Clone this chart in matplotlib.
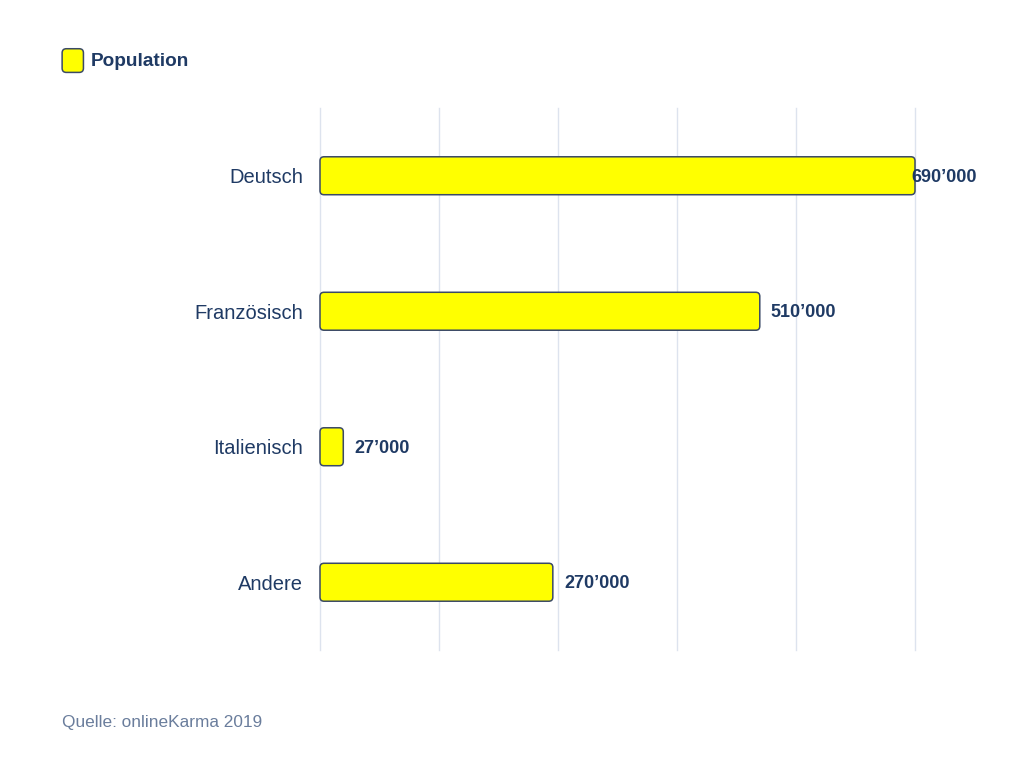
import matplotlib.pyplot as plt
from matplotlib.patches import FancyBboxPatch
from matplotlib.legend_handler import HandlerPatch

sprachen = ["Deutsch", "Französisch", "Italienisch", "Andere"]
population = [690000, 510000, 27000, 270000]
serie = "Population"
quelle = "Quelle: onlineKarma 2019"

GELB = "#ffff00"
RAND = "#3b4a66"
NAVY = "#1f3a64"
GRAU = "#6a7d9c"
GITTER = "#dde3ee"

plt.rcParams['font.family'] = ['Liberation Sans', 'DejaVu Sans']

fig = plt.figure(figsize=(10.24, 7.68), dpi=100)
ax = fig.add_axes([320 / 1024, 1 - 650 / 768, 595 / 1024, 542 / 768])

pos = list(range(len(sprachen)))
bars = ax.barh(pos, population, height=0.28, color=GELB, edgecolor=RAND)

ax.set_xlim(0, 690000)
ax.set_ylim(len(sprachen) - 0.5, -0.5)

# runde Ecken: Balken durch FancyBboxPatch ersetzen
px_x = 690000 / 595
px_y = 1 / 135.5
r = 4 * px_x
for b in bars:
    b.set_visible(False)
    p = FancyBboxPatch((b.get_x(), b.get_y()), b.get_width(), b.get_height(),
                       boxstyle=f"round,pad=0,rounding_size={r}",
                       mutation_aspect=px_y / px_x,
                       facecolor=GELB, edgecolor=RAND, linewidth=1.1, zorder=3,
                       clip_on=False)
    ax.add_patch(p)

for i, v in enumerate(population):
    txt = f"{v:,}".replace(",", "\u2019")
    off = -2.5 if v == max(population) else 8
    ax.annotate(txt, (v, i), xytext=(off, -1), textcoords="offset points",
                ha="left", va="center", fontsize=13, fontweight="bold",
                color=NAVY, zorder=4, annotation_clip=False)

ax.set_xticks([0, 138000, 276000, 414000, 552000, 690000])
ax.set_xticklabels([])
ax.tick_params(axis="x", length=0)
ax.grid(axis="x", color=GITTER, linewidth=1)
for g in ax.xaxis.get_gridlines():
    g.set_clip_on(False)
ax.set_axisbelow(True)
ax.set_yticks(pos)
ax.set_yticklabels(sprachen, fontsize=14.5, color=NAVY)
ax.tick_params(axis="y", length=0, pad=12)
for s in ax.spines.values():
    s.set_visible(False)


def rund_handle(legend, orig_handle, xdescent, ydescent, width, height, fontsize):
    return FancyBboxPatch((-xdescent, -ydescent - 2), width, height + 3,
                          boxstyle="round,pad=0,rounding_size=3")


proxy = FancyBboxPatch((0, 0), 1, 1, facecolor=GELB, edgecolor=RAND, linewidth=1.1)
leg = fig.legend([proxy], [serie], loc="upper left", bbox_to_anchor=(45 / 1024, 1 - 33 / 768),
                 frameon=False, handlelength=1.12, handleheight=1.2, handletextpad=0.4,
                 prop={"size": 13.7, "weight": "bold"},
                 handler_map={FancyBboxPatch: HandlerPatch(patch_func=rund_handle)})
for t in leg.get_texts():
    t.set_color(NAVY)

fig.text(62 / 1024, 1 - 722 / 768, quelle, fontsize=12.4, color=GRAU, va="center", ha="left")

fig.savefig("out.png", dpi=100, facecolor="white")
